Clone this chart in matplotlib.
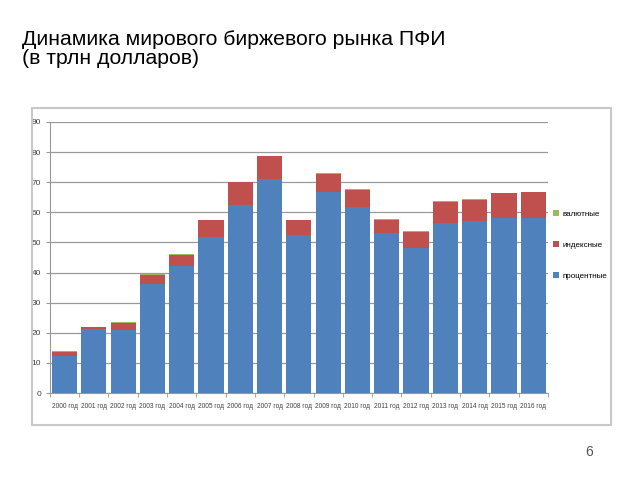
import matplotlib
matplotlib.use('Agg')
from matplotlib import pyplot as plt
from matplotlib.patches import Rectangle

# values (trillion USD)
years = ['2000 год', '2001 год', '2002 год', '2003 год', '2004 год', '2005 год',
         '2006 год', '2007 год', '2008 год', '2009 год', '2010 год', '2011 год',
         '2012 год', '2013 год', '2014 год', '2015 год', '2016 год']
interest = [12.3, 21.4, 21.1, 36.1, 42.2, 51.9, 62.3, 70.9, 52.5, 66.7, 61.7,
            53.0, 48.1, 56.5, 57.0, 58.2, 58.1]
index = [1.5, 0.4, 2.3, 3.1, 3.7, 5.5, 7.7, 7.7, 4.8, 6.0, 5.7, 4.5, 5.4, 7.0,
         7.2, 8.1, 8.6]
currency = [0.2, 0.1, 0.2, 0.2, 0.2, 0.2, 0.2, 0.2, 0.2, 0.2, 0.2, 0.2, 0.2,
            0.2, 0.2, 0.2, 0.2]
ylabels = [0, 10, 20, 30, 40, 50, 60, 70, 80, 90]

plt.rcParams['font.family'] = ['Liberation Sans', 'DejaVu Sans']

fig = plt.figure(figsize=(6.4, 4.8), dpi=100)
fig.text(0.034, 0.938, 'Динамика мирового биржевого рынка ПФИ\n(в трлн долларов)',
         fontsize=15.3, va='top', ha='left', linespacing=1.02)
fig.text(0.92, 0.05, '6', fontsize=10, color='#555555', ha='center')

# outer chart frame
fig.patches.append(Rectangle((0.05, 0.115), 0.905, 0.66, transform=fig.transFigure,
                             fill=False, edgecolor='#c8c8c8', linewidth=1.5))

ax = fig.add_axes([0.078, 0.181, 0.778, 0.565])
x = list(range(len(years)))
w = 0.86
ax.bar(x, interest, w, color='#4f81bd', label='процентные', zorder=3)
ax.bar(x, index, w, bottom=interest, color='#c0504d', label='индексные', zorder=3)
bot = [a + b for a, b in zip(interest, index)]
ax.bar(x, currency, w, bottom=bot, color='#9bbb59', label='валютные', zorder=3)

ax.set_xlim(-0.5, len(years) - 0.5)
ax.set_ylim(0, 90)
ax.set_yticks(ylabels)
ax.set_xticks(x)
ax.set_xticklabels(years, fontsize=4.7, color='#404040')
ax.set_xticks([i - 0.5 for i in range(len(years) + 1)], minor=True)
ax.tick_params(axis='x', which='major', length=0, pad=7)
ax.tick_params(axis='x', which='minor', length=3, color='#999999')
ax.tick_params(axis='y', labelsize=6, labelcolor='#404040', length=3,
               color='#999999')
ax.grid(axis='y', color='#999999', linewidth=0.9, zorder=0)
for s in ['top', 'right']:
    ax.spines[s].set_visible(False)
ax.spines['left'].set_color('#999999')
ax.spines['bottom'].set_color('#999999')

h, l = ax.get_legend_handles_labels()
fig.legend(h[::-1], l[::-1], loc='center left', bbox_to_anchor=(0.853, 0.49),
           frameon=False, fontsize=5.8, handlelength=0.7, handleheight=0.7,
           handletextpad=0.4, labelspacing=2.9)

plt.savefig('out.png')
